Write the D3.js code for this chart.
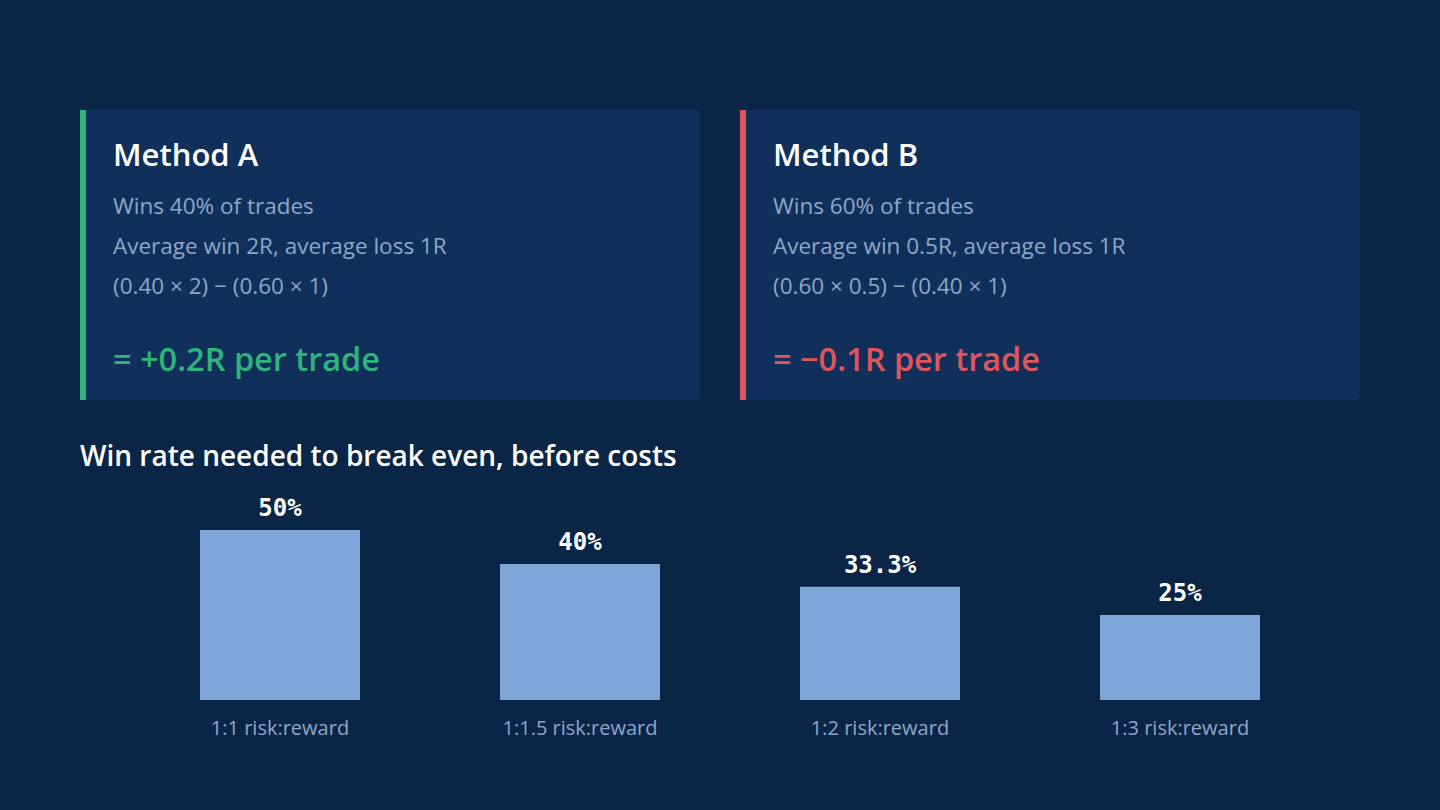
<html>
<head>
    <script src="https://d3js.org/d3.v7.min.js"></script>
</head>
<style>
    body { margin: 0; background: #0b2546; }
    text { font-family: "Open Sans", "Noto Sans", sans-serif; }
    .val { font-family: "DejaVu Sans Mono", monospace; font-weight: bold; }
</style>
<body>
    <svg height="810" width="1440" id="chart"></svg>
</body>
<script>
    // card content
    const methods = ["Method A", "Method B"];
    const method_lines = [
        ["Wins 40% of trades", "Average win 2R, average loss 1R", "(0.40 × 2) − (0.60 × 1)"],
        ["Wins 60% of trades", "Average win 0.5R, average loss 1R", "(0.60 × 0.5) − (0.40 × 1)"]
    ];
    const method_results = ["= +0.2R per trade", "= −0.1R per trade"];
    const method_colors = ["#2fb47c", "#e0555d"];

    // bar chart
    const chart_title = "Win rate needed to break even, before costs";
    const ratios = ["1:1 risk:reward", "1:1.5 risk:reward", "1:2 risk:reward", "1:3 risk:reward"];
    const breakeven = [50, 40, 33.3, 25];
    const breakeven_labels = ["50%", "40%", "33.3%", "25%"];

    let svg = d3.select('svg#chart');

    svg.append('rect')
        .attr('width', 1440).attr('height', 810)
        .attr('fill', '#0b2546');

    // cards
    let card_x = d3.scaleBand().domain(methods).range([80, 1360]).paddingInner(40 / 660);

    let cards = svg.selectAll('g.card')
        .data(methods)
        .join('g')
        .attr('class', 'card')
        .attr('transform', d => `translate(${card_x(d)},110)`);

    cards.append('rect')
        .attr('width', card_x.bandwidth())
        .attr('height', 290)
        .attr('rx', 5)
        .attr('fill', '#10305b');

    cards.append('rect')
        .attr('width', 6)
        .attr('height', 290)
        .attr('fill', (d, i) => method_colors[i]);

    cards.append('text')
        .attr('x', 33)
        .attr('y', 56)
        .attr('font-size', 31)
        .attr('font-weight', 600)
        .attr('fill', '#ffffff')
        .text(d => d);

    cards.each(function(d, i) {
        d3.select(this).selectAll('text.line')
            .data(method_lines[i])
            .join('text')
            .attr('class', 'line')
            .attr('x', 33)
            .attr('y', (t, j) => 104 + j * 40)
            .attr('font-size', 22.5)
            .attr('fill', '#8ea7c8')
            .text(t => t);
    });

    cards.append('text')
        .attr('x', 33)
        .attr('y', 261)
        .attr('font-size', 32.5)
        .attr('font-weight', 600)
        .attr('fill', (d, i) => method_colors[i])
        .text((d, i) => method_results[i]);

    // chart
    svg.append('text')
        .attr('x', 80)
        .attr('y', 466)
        .attr('font-size', 28)
        .attr('font-weight', 600)
        .attr('fill', '#ffffff')
        .text(chart_title);

    let x = d3.scaleBand()
        .domain(ratios)
        .range([130, 1330])
        .paddingInner(140 / 300)
        .paddingOuter(70 / 300);

    let y = d3.scaleLinear()
        .domain([0, 50])
        .range([700, 530]);

    let bars = svg.append('g');

    bars.selectAll('rect')
        .data(breakeven)
        .join('rect')
        .attr('x', (d, i) => x(ratios[i]))
        .attr('y', d => y(d))
        .attr('width', x.bandwidth())
        .attr('height', d => y(0) - y(d))
        .attr('fill', '#7fa7d9');

    bars.selectAll('text.val')
        .data(breakeven)
        .join('text')
        .attr('class', 'val')
        .attr('x', (d, i) => x(ratios[i]) + x.bandwidth() / 2)
        .attr('y', d => y(d) - 14)
        .attr('text-anchor', 'middle')
        .attr('font-size', 24)
        .attr('fill', '#ffffff')
        .text((d, i) => breakeven_labels[i]);

    bars.selectAll('text.cat')
        .data(ratios)
        .join('text')
        .attr('class', 'cat')
        .attr('x', d => x(d) + x.bandwidth() / 2)
        .attr('y', 735)
        .attr('text-anchor', 'middle')
        .attr('font-size', 20)
        .attr('fill', '#8ea7c8')
        .text(d => d);
</script>
</html>
